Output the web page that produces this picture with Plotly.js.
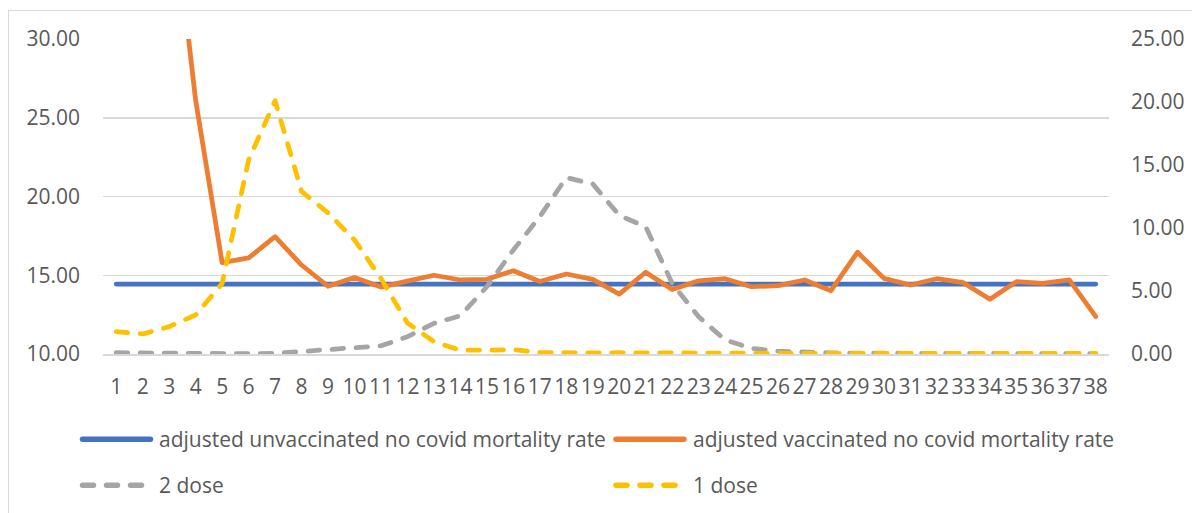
<!DOCTYPE html>
<html>
<head>
<meta charset="utf-8">
<script src="https://cdn.plot.ly/plotly-3.0.1.min.js"></script>
<style>
  html, body { margin: 0; padding: 0; background: #fff; overflow: hidden; width: 1192px; height: 513px; }
  #frame { position: absolute; left: 8px; top: 10px; width: 1300px; height: 600px;
           border-left: 1px solid #d9d9d9; border-top: 1px solid #d9d9d9; }
  #chart { position: absolute; left: 0; top: 0; width: 1183px; height: 502px; }
  .scatterlayer path.js-line, .shapelayer path { stroke-linecap: round; stroke-linejoin: round; }
</style>
</head>
<body>
<div id="frame"><div id="chart"></div></div>
<script>
// ---- data ----
const weeks = [1,2,3,4,5,6,7,8,9,10,11,12,13,14,15,16,17,18,19,20,21,22,23,24,25,26,27,28,29,30,31,32,33,34,35,36,37,38];

const unvaccinatedRate = [14.44,14.44,14.44,14.44,14.44,14.44,14.44,14.44,14.44,14.44,14.44,14.44,14.44,14.44,14.44,14.44,14.44,14.44,14.44,14.44,14.44,14.44,14.44,14.44,14.44,14.44,14.44,14.44,14.44,14.44,14.44,14.44,14.44,14.44,14.44,14.44,14.44,14.44];

const vaccinatedRate = [48.0,44.0,40.7,26.1,15.8,16.1,17.45,15.65,14.3,14.85,14.25,14.63,15.0,14.7,14.74,15.29,14.6,15.08,14.74,13.8,15.19,14.1,14.65,14.78,14.27,14.34,14.7,14.02,16.46,14.8,14.38,14.78,14.53,13.47,14.59,14.49,14.7,12.37];

const dose2 = [0.10,0.07,0.02,0.0,0.0,0.02,0.05,0.18,0.32,0.45,0.65,1.37,2.43,3.04,5.34,8.25,10.9,14.0,13.5,11.0,10.1,5.6,2.96,1.11,0.45,0.22,0.12,0.09,0.07,0.06,0.05,0.04,0.04,0.03,0.03,0.02,0.02,0.02];

const dose1 = [1.77,1.59,2.17,3.1,5.6,15.4,20.1,12.9,11.2,9.05,6.0,2.46,0.98,0.3,0.3,0.35,0.12,0.08,0.08,0.1,0.08,0.05,0.05,0.05,0.05,0.05,0.05,0.05,0.05,0.05,0.05,0.05,0.05,0.05,0.05,0.05,0.05,0.05];

const seriesNames = [
  "adjusted unvaccinated no covid mortality rate",
  "adjusted vaccinated no covid mortality rate",
  "2 dose",
  "1 dose"
];
const leftTicks = [10,15,20,25,30];
const rightTicks = [0,5,10,15,20,25];

// ---- styles ----
const colors = ["#4472C4", "#ED7D31", "#A5A5A5", "#FFC000"];
const font = "Open Sans, Noto Sans, sans-serif";
const textColor = "#595959";
const DASH = "11.5px,12.5px";
const FS = 21;

const traces = [
  {x: weeks, y: unvaccinatedRate, name: seriesNames[0], type: "scatter", mode: "lines",
   line: {color: colors[0], width: 4.75}, yaxis: "y"},
  {x: weeks, y: vaccinatedRate, name: seriesNames[1], type: "scatter", mode: "lines",
   line: {color: colors[1], width: 4.75}, yaxis: "y"},
  {x: weeks, y: dose2, name: seriesNames[2], type: "scatter", mode: "lines",
   line: {color: colors[2], width: 4.75, dash: DASH}, yaxis: "y2"},
  {x: weeks, y: dose1, name: seriesNames[3], type: "scatter", mode: "lines",
   line: {color: colors[3], width: 4.75, dash: DASH}, yaxis: "y2"}
];

// plot area in page pixels (for placing custom legend)
const PL = 102.5, PW = 1007, PB = 354.5, PH = 315.5;
const px = v => (v - PL) / PW;
const py = v => (PB - v) / PH;

const legendRows = [440, 486];
const legendCols = [{s0: 82, s1: 150, t: 157}, {s0: 616, s1: 684, t: 691}];
const shapes = [], annotations = [];
seriesNames.forEach((n, i) => {
  const col = legendCols[i % 2], row = legendRows[Math.floor(i / 2)];
  shapes.push({type: "line", xref: "paper", yref: "paper",
    x0: px(col.s0), x1: px(col.s1), y0: py(row), y1: py(row),
    line: {color: colors[i], width: 5.5, dash: i >= 2 ? "11px,13px" : "solid"}});
  annotations.push({xref: "paper", yref: "paper", x: px(col.t), y: py(row),
    xanchor: "left", yanchor: "middle", showarrow: false, text: n,
    font: {family: font, size: FS, color: textColor}});
});

const layout = {
  width: 1183, height: 502,
  margin: {l: 93.5, r: 82.5, t: 28, b: 158.5},
  paper_bgcolor: "#ffffff", plot_bgcolor: "#ffffff",
  showlegend: false,
  font: {family: font, size: FS, color: textColor},
  xaxis: {range: [0.5, 38.5], tickmode: "array", tickvals: weeks, ticktext: weeks.map(String),
    showgrid: false, zeroline: false, showline: true, linecolor: "#d9d9d9", linewidth: 1.5,
    ticks: "", ticklabelstandoff: 13, tickfont: {family: font, size: FS, color: textColor}},
  yaxis: {range: [10, 30], tickmode: "array", tickvals: leftTicks, ticktext: leftTicks.map(v => v.toFixed(2)),
    showgrid: true, gridcolor: "#d9d9d9", gridwidth: 1.5, zeroline: false, showline: false, ticks: "",
    ticklabelstandoff: 22, tickfont: {family: font, size: FS, color: textColor}},
  yaxis2: {range: [0, 25], overlaying: "y", side: "right", tickmode: "array", tickvals: rightTicks,
    ticktext: rightTicks.map(v => v.toFixed(2)), showgrid: false, zeroline: false, showline: false,
    ticks: "", ticklabelstandoff: 21, tickfont: {family: font, size: FS, color: textColor}},
  shapes: shapes,
  annotations: annotations
};

Plotly.newPlot("chart", traces, layout, {staticPlot: true, displayModeBar: false});
</script>
</body>
</html>
